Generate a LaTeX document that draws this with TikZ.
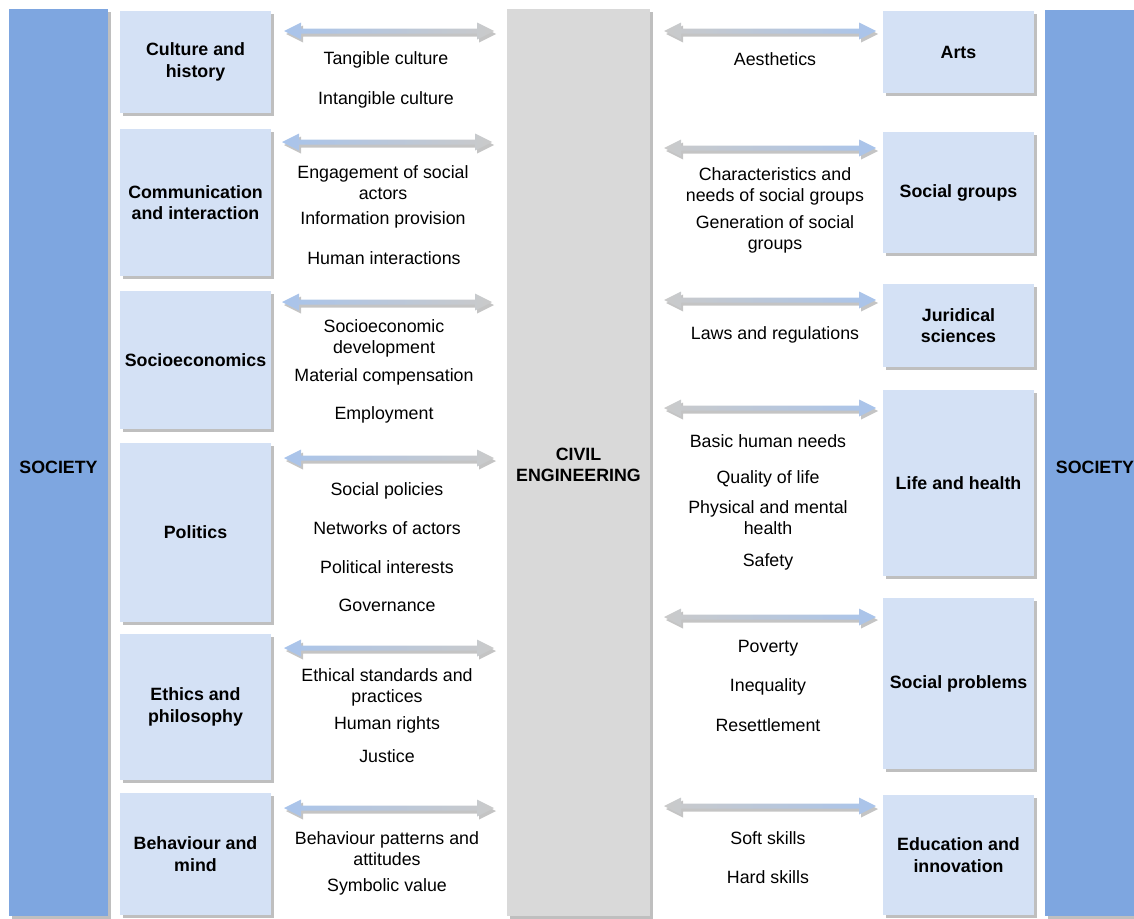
\documentclass[tikz,border=0pt]{standalone}
\usepackage{fontspec}
\setmainfont{Liberation Sans}
\usetikzlibrary{shadows}
\definecolor{socblue}{HTML}{7EA6E0}
\definecolor{boxblue}{HTML}{D4E1F5}
\definecolor{cgray}{HTML}{D9D9D9}
\definecolor{shgray}{HTML}{BFBFBF}
\definecolor{arrblue}{HTML}{A9C4EB}
\definecolor{arrgray}{HTML}{CACACA}
\definecolor{arrshadow}{HTML}{C4C4C4}
\tikzset{
  shad/.style={general shadow={fill=shgray, shadow xshift=3pt, shadow yshift=-3pt}},
  catbox/.style={shad, fill=boxblue, draw=none, minimum width=151pt, inner sep=2pt,
     align=center, font=\fontsize{17.8}{21.5}\selectfont\bfseries},
  bar/.style={shad, draw=none, inner sep=0pt, align=center,
     font=\fontsize{17.8}{21.5}\selectfont\bfseries},
  lbl/.style={align=center, inner sep=0pt, yshift=-2pt, font=\fontsize{17.8}{21}\selectfont},
}
% double arrow: #1 left tip x, #2 right tip x, #3 y, #4 left colour, #5 right colour
\newcommand{\dblarr}[5]{%
  \fill[arrshadow, shift={(2,3)}] (#1,#3) -- ({#1+17},{#3-8.5}) -- ({#1+17},{#3-2.5}) -- ({#2-17},{#3-2.5}) -- ({#2-17},{#3-8.5}) -- (#2,#3) -- ({#2-17},{#3+8.5}) -- ({#2-17},{#3+2.5}) -- ({#1+17},{#3+2.5}) -- ({#1+17},{#3+8.5}) -- cycle;
  \shade[left color=#4, right color=#5] (#1,#3) -- ({#1+17},{#3-8.5}) -- ({#1+17},{#3-2.5}) -- ({#2-17},{#3-2.5}) -- ({#2-17},{#3-8.5}) -- (#2,#3) -- ({#2-17},{#3+8.5}) -- ({#2-17},{#3+2.5}) -- ({#1+17},{#3+2.5}) -- ({#1+17},{#3+8.5}) -- cycle;
}
\begin{document}
\begin{tikzpicture}[x=1pt,y=-1pt]
\useasboundingbox (0,0) rectangle (1134,918);
% society bars and centre
\node[bar, fill=socblue, minimum width=99pt, minimum height=907pt] (socL) at (58.5,462.5) {};
\node[bar, fill=socblue, minimum width=99pt, minimum height=906pt] (socR) at (1094.5,463) {};
\node[bar, fill=cgray, minimum width=143pt, minimum height=907pt] (civ) at (578.5,462.5) {};
\node[lbl, font=\fontsize{17.8}{21.5}\selectfont\bfseries] (socLt) at (58.5,465) {SOCIETY};
\node[lbl, font=\fontsize{17.8}{21.5}\selectfont\bfseries] (socRt) at (1095,465) {SOCIETY};
\node[lbl, font=\fontsize{17.8}{21.5}\selectfont\bfseries] (civt) at (578.5,463) {CIVIL\\ENGINEERING};
% left boxes
\node[catbox, minimum height=102pt] (cult) at (195.5,62) {Culture and\\history};
\node[catbox, minimum height=147pt] (comm) at (195.5,202.5) {Communication\\and interaction};
\node[catbox, minimum height=138pt] (socio) at (195.5,360) {Socioeconomics};
\node[catbox, minimum height=179pt] (pol) at (195.5,532.5) {Politics};
\node[catbox, minimum height=146pt] (eth) at (195.5,707) {Ethics and\\philosophy};
\node[catbox, minimum height=122pt] (beh) at (195.5,854) {Behaviour and\\mind};
% right boxes
\node[catbox, minimum height=82pt] (arts) at (958.5,52) {Arts};
\node[catbox, minimum height=121pt] (sg) at (958.5,192.5) {Social groups};
\node[catbox, minimum height=83pt] (jur) at (958.5,325.5) {Juridical\\sciences};
\node[catbox, minimum height=186pt] (life) at (958.5,483) {Life and health};
\node[catbox, minimum height=171pt] (prob) at (958.5,683.5) {Social problems};
\node[catbox, minimum height=120pt] (edu) at (958.5,855) {Education and\\innovation};
% arrows left
\dblarr{284}{494}{31}{arrblue}{arrgray}
\dblarr{282}{492}{142}{arrblue}{arrgray}
\dblarr{282}{492}{302}{arrblue}{arrgray}
\dblarr{284}{494}{458}{arrblue}{arrgray}
\dblarr{284}{494}{648}{arrblue}{arrgray}
\dblarr{284}{494}{808}{arrblue}{arrgray}
% arrows right
\dblarr{664}{876}{31}{arrgray}{arrblue}
\dblarr{664}{876}{148}{arrgray}{arrblue}
\dblarr{664}{876}{300}{arrgray}{arrblue}
\dblarr{664}{876}{408}{arrgray}{arrblue}
\dblarr{664}{876}{617}{arrgray}{arrblue}
\dblarr{664}{876}{806}{arrgray}{arrblue}
% left labels
\node[lbl] (l1) at (386,58) {Tangible culture};
\node[lbl] (l2) at (386,98) {Intangible culture};
\node[lbl] (l3) at (383,180.5) {Engagement of social\\actors};
\node[lbl] (l4) at (383,218) {Information provision};
\node[lbl] (l5) at (384,256) {Human interactions};
\node[lbl] (l6) at (384,336.5) {Socioeconomic\\development};
\node[lbl] (l7) at (384,375) {Material compensation};
\node[lbl] (l8) at (384,413) {Employment};
\node[lbl] (l9) at (387,489) {Social policies};
\node[lbl] (l10) at (387,526) {Networks of actors};
\node[lbl] (l11) at (387,565) {Political interests};
\node[lbl] (l12) at (387,603) {Governance};
\node[lbl] (l13) at (387,685.5) {Ethical standards and\\practices};
\node[lbl] (l14) at (387,723) {Human rights};
\node[lbl] (l15) at (387,754) {Justice};
\node[lbl] (l16) at (387,846.5) {Behaviour patterns and\\attitudes};
\node[lbl] (l17) at (387,885) {Symbolic value};
% right labels
\node[lbl] (r1) at (775,57) {Aesthetics};
\node[lbl] (r2) at (775,184) {Characteristics and\\needs of social groups};
\node[lbl] (r3) at (775,232) {Generation of social\\groups};
\node[lbl] (r4) at (775,333) {Laws and regulations};
\node[lbl] (r5) at (768,439) {Basic human needs};
\node[lbl] (r6) at (768,477) {Quality of life};
\node[lbl] (r7) at (768,515.5) {Physical and mental\\health};
\node[lbl] (r8) at (768,560) {Safety};
\node[lbl] (r9) at (768,646) {Poverty};
\node[lbl] (r10) at (768,685) {Inequality};
\node[lbl] (r11) at (768,723) {Resettlement};
\node[lbl] (r12) at (768,836) {Soft skills};
\node[lbl] (r13) at (768,875) {Hard skills};
\end{tikzpicture}
\end{document}
